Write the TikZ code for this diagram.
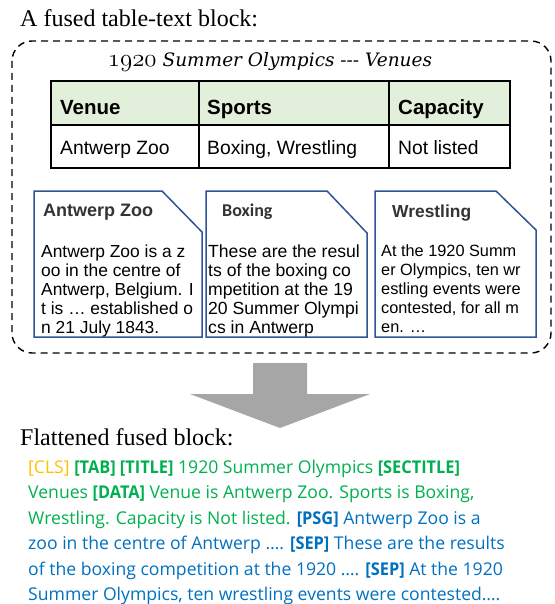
\documentclass[tikz,border=0pt]{standalone}
\usepackage{fontspec}
\newfontfamily\tnr{Liberation Serif}
\newfontfamily\arial{Liberation Sans}
\newfontfamily\calib{Carlito}
\newfontfamily\osans[BoldFeatures={FakeStretch=0.93}]{Open Sans}
\newfontfamily\dserif{DejaVu Serif}
\definecolor{hdrgreen}{HTML}{E2EFDA}
\definecolor{docblue}{HTML}{2F5597}
\definecolor{docgray}{HTML}{333333}
\definecolor{arrgray}{HTML}{A6A6A6}
\definecolor{tokorange}{HTML}{FFC000}
\definecolor{tokgreen}{HTML}{00B050}
\definecolor{tokblue}{HTML}{0070C0}
\tikzset{
  lbl/.style={anchor=base west, inner sep=0pt, font=\tnr\fontsize{24}{28}\selectfont},
  hcell/.style={anchor=base west, inner sep=0pt, font=\arial\bfseries\fontsize{20.5}{24}\selectfont},
  bcell/.style={anchor=base west, inner sep=0pt, font=\arial\fontsize{19.3}{22}\selectfont},
  tbline/.style={draw=black, line width=1.3pt},
  docbox/.style={draw=docblue, line width=1.5pt, fill=white},
  doctitle/.style={anchor=base west, inner sep=0pt, text=docgray, font=\arial\bfseries\fontsize{18}{20}\selectfont},
  docline/.style={anchor=base west, inner sep=0pt, font=\arial\fontsize{17.4}{19}\selectfont},
  flatline/.style={anchor=base west, inner sep=0pt, font=\osans\fontsize{17.6}{20}\selectfont},
  fusebox/.style={draw=black, line width=1.4pt, dash pattern=on 7pt off 5pt, rounded corners=20pt},
}
\begin{document}
\begin{tikzpicture}[x=1pt,y=-1pt]
\useasboundingbox (0,0) rectangle (554,604);
% heading
\node[lbl] (head1) at (20,27) {A fused table-text block:};
% dashed block
\draw[fusebox] (12,41) rectangle (551,353);
% title
\node[anchor=base, inner sep=0pt, font=\dserif\itshape\fontsize{18.5}{22}\selectfont] (ttl) at (270,67) {{\fontsize{23}{24}\selectfont$\mathnormal{1920}$} Summer Olympics {-}{-}{-} Venues};
% table
\fill[hdrgreen] (51,81) rectangle (510,125);
\draw[tbline] (51,81) rectangle (510,168);
\draw[tbline] (51,125) -- (510,125);
\draw[tbline] (199,81) -- (199,168);
\draw[tbline] (389,81) -- (389,168);
\node[hcell] (h1) at (60,115) {Venue};
\node[hcell] (h2) at (207,115) {Sports};
\node[hcell] (h3) at (398,115) {Capacity};
\node[bcell] (c1) at (60,154.5) {Antwerp Zoo};
\node[bcell] (c2) at (207,154.5) {Boxing, Wrestling};
\node[bcell] (c3) at (398,154.5) {Not listed};
% document boxes
\draw[docbox] (34,191) -- (162,191) -- (202,232) -- (202,337) -- (34,337) -- cycle;
\draw[docbox] (206,191) -- (327,191) -- (367,233) -- (367,337) -- (206,337) -- cycle;
\draw[docbox] (375,191) -- (496,191) -- (536,230) -- (536,337) -- (375,337) -- cycle;
\node[doctitle] (d1t) at (43,216) {Antwerp Zoo};
\node[doctitle, font=\calib\bfseries\fontsize{18}{20}\selectfont] (d2t) at (222,216) {Boxing};
\node[doctitle, font=\arial\bfseries\fontsize{17.4}{20}\selectfont] (d3t) at (392,217) {Wrestling};
\foreach \t [count=\i from 0] in {Antwerp Zoo is a z, oo in the centre of, {Antwerp, Belgium. I}, t is … established o, n 21 July 1843.}
  \node[docline] (d1l\i) at (41,257+19.2*\i) {\t};
\foreach \t [count=\i from 0] in {These are the resul, ts of the boxing co, mpetition at the 19, 20 Summer Olympi, cs in Antwerp}
  \node[docline, font=\arial\fontsize{17.6}{19}\selectfont] (d2l\i) at (208,257+19.2*\i) {\t};
\foreach \t [count=\i from 0] in {At the 1920 Summ, {er Olympics, ten wr}, estling events were, {contested, for all m}, en. …}
  \node[docline, font=\arial\fontsize{16.3}{19}\selectfont] (d3l\i) at (381,256+19.2*\i) {\t};
% block arrow
\fill[arrgray] (253,363) -- (307,363) -- (307,394) -- (370,394) -- (280,428) -- (190,394) -- (253,394) -- cycle;
% flattened
\node[lbl] (head2) at (20,445) {Flattened fused block:};
\node[flatline, text=tokgreen] (f1) at (28,473) {\textcolor{tokorange}{[CLS]} \textbf{[TAB] [TITLE]} 1920 Summer Olympics \textbf{[SECTITLE]}};
\node[flatline, text=tokgreen] (f2) at (28,498.5) {Venues \textbf{[DATA]} Venue is Antwerp Zoo. Sports is Boxing,};
\node[flatline, text=tokgreen] (f3) at (28,524) {Wrestling. Capacity is Not listed. \textcolor{tokblue}{\textbf{[PSG]} Antwerp Zoo is a}};
\node[flatline, text=tokblue] (f4) at (28,549.5) {zoo in the centre of Antwerp …. \textbf{[SEP]} These are the results};
\node[flatline, text=tokblue] (f5) at (28,575) {of the boxing competition at the 1920 …. \textbf{[SEP]} At the 1920};
\node[flatline, text=tokblue] (f6) at (28,600) {Summer Olympics, ten wrestling events were contested….};
\end{tikzpicture}
\end{document}
